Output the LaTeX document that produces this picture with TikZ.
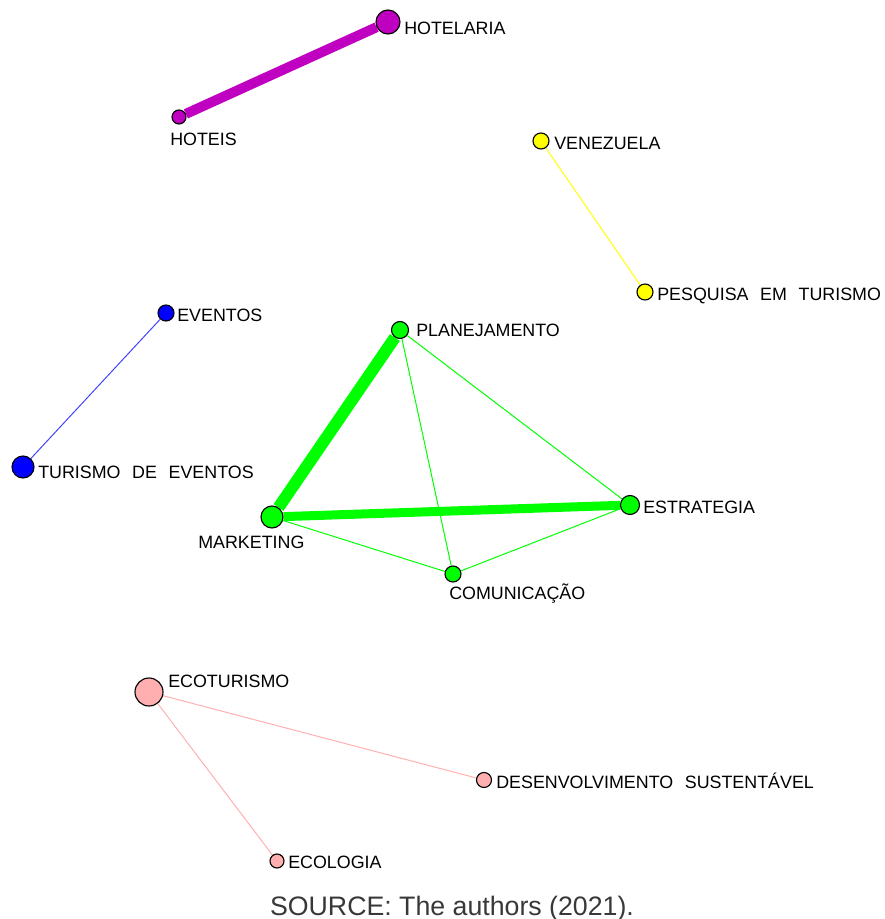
\documentclass[tikz,border=0pt]{standalone}
\usepackage{fontspec}
\usepackage{tikz}
\usetikzlibrary{backgrounds}
\newfontfamily\kwfont{Liberation Sans}
\newcommand\tagfont{\kwfont\fontsize{12.7}{15}\selectfont\spaceskip=0.65em\relax}

\definecolor{hotelcol}{RGB}{192,0,192}
\definecolor{venecol}{RGB}{255,255,0}
\definecolor{eventcol}{RGB}{0,0,255}
\definecolor{plancol}{RGB}{0,255,0}
\definecolor{ecocol}{RGB}{255,175,175}

\begin{document}
\begin{tikzpicture}[x=0.025cm,y=-0.025cm,
  kw/.style={circle,draw=black,line width=0.8pt,inner sep=0pt,minimum size=#1*0.025cm},
  tag/.style={anchor=base west,inner sep=0pt,font=\tagfont},
  link/.style={line width=#1}]
  \useasboundingbox (0,0) rectangle (885,919);

  % keyword nodes
  \node[kw=24, fill=hotelcol] (hotelaria) at (388,22) {};
  \node[kw=14, fill=hotelcol] (hoteis) at (179,117) {};
  \node[kw=16, fill=venecol] (venezuela) at (541,141) {};
  \node[kw=16, fill=venecol] (pesquisa) at (645,292) {};
  \node[kw=16, fill=eventcol] (eventos) at (166,313) {};
  \node[kw=22, fill=eventcol] (turismo) at (23,467) {};
  \node[kw=17, fill=plancol] (planejamento) at (400,330) {};
  \node[kw=22, fill=plancol] (marketing) at (272,517) {};
  \node[kw=19, fill=plancol] (estrategia) at (630,505) {};
  \node[kw=16, fill=plancol] (comunicacao) at (453,574) {};
  \node[kw=28, fill=ecocol] (ecoturismo) at (149,692) {};
  \node[kw=15, fill=ecocol] (desenvolvimento) at (484,780) {};
  \node[kw=14, fill=ecocol] (ecologia) at (277,861) {};

  % labels
  \node[tag] (hotelaria-t) at (404,35) {HOTELARIA};
  \node[tag] (hoteis-t) at (170,146) {HOTEIS};
  \node[tag] (venezuela-t) at (554,150) {VENEZUELA};
  \node[tag] (pesquisa-t) at (657,300) {PESQUISA EM TURISMO};
  \node[tag] (eventos-t) at (177,321) {EVENTOS};
  \node[tag] (turismo-t) at (38,478) {TURISMO DE EVENTOS};
  \node[tag] (planejamento-t) at (416,336) {PLANEJAMENTO};
  \node[tag] (marketing-t) at (198,548) {MARKETING};
  \node[tag] (estrategia-t) at (643,513) {ESTRATEGIA};
  \node[tag] (comunicacao-t) at (449,599) {COMUNICAÇÃO};
  \node[tag] (ecoturismo-t) at (168,687) {ECOTURISMO};
  \node[tag] (desenvolvimento-t) at (496,788) {DESENVOLVIMENTO SUSTENTÁVEL};
  \node[tag] (ecologia-t) at (288,868) {ECOLOGIA};

  \node[anchor=base,inner sep=0pt,text=black!78,
    font=\kwfont\fontsize{19}{22}\selectfont] (source) at (452,915)
    {SOURCE: The authors (2021).};

  % links
  \begin{pgfonlayer}{background}
  \path
    (hoteis) edge[link=7.1pt, hotelcol] (hotelaria)
    (venezuela) edge[link=0.7pt, venecol] (pesquisa)
    (eventos) edge[link=0.7pt, eventcol!75] (turismo)
    (marketing) edge[link=8.5pt, plancol] (planejamento)
                edge[link=6.4pt, plancol] (estrategia)
                edge[link=0.7pt, plancol] (comunicacao)
    (planejamento) edge[link=0.7pt, plancol] (estrategia)
                   edge[link=0.7pt, plancol] (comunicacao)
    (comunicacao) edge[link=0.7pt, plancol] (estrategia)
    (ecoturismo) edge[link=0.7pt, ecocol] (desenvolvimento)
                 edge[link=0.7pt, ecocol] (ecologia);
  \end{pgfonlayer}
\end{tikzpicture}
\end{document}
